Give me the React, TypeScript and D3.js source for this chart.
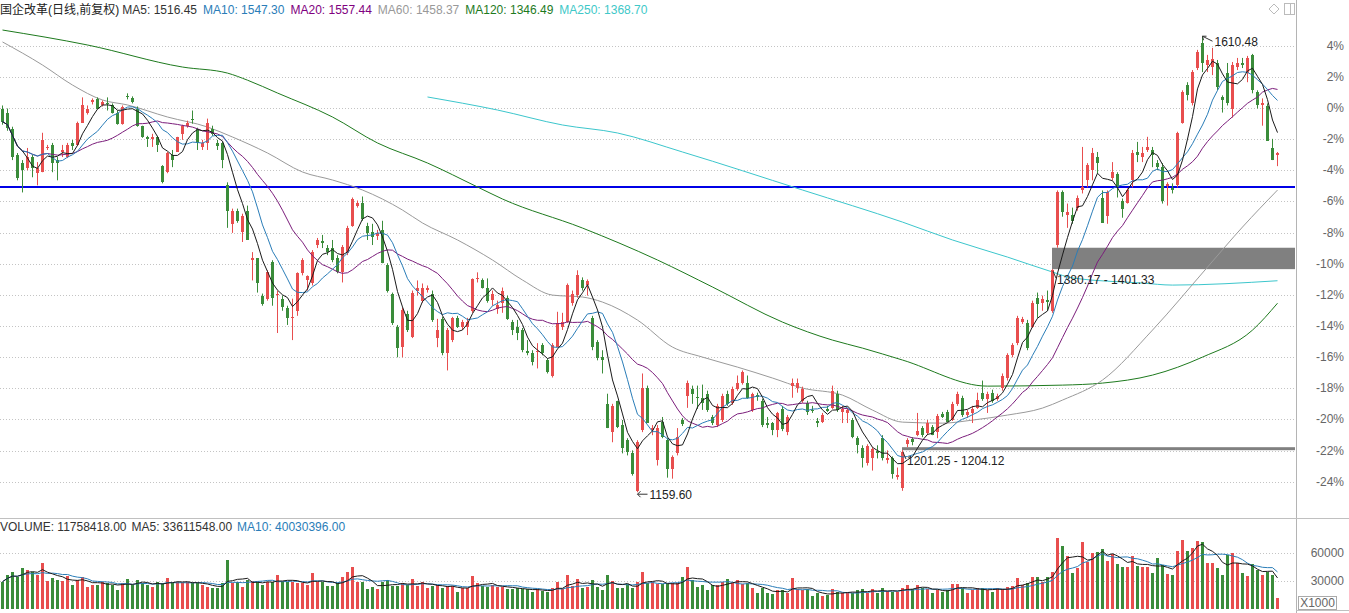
import React from "react";
import * as d3 from "d3";

const WIDTH = 1349;
const HEIGHT = 613;
const FONT = "'Liberation Sans', Arial, 'Noto Sans CJK SC', sans-serif";

// ---- data ----
const title = "国企改革(日线,前复权)";
const basePrice = 1539.5; // price that sits at 0% on the right axis
const pctTicks = [4, 2, 0, -2, -4, -6, -8, -10, -12, -14, -16, -18, -20, -22, -24];
const volTicks = [60000, 30000];

// [open, high, low, close]
const ohlc: [number, number, number, number][] = [
  [1539, 1542, 1523, 1526], [1535, 1539, 1517, 1520], [1519, 1521, 1488, 1491], [1493, 1495, 1468, 1470],
  [1485, 1488, 1456, 1478], [1480, 1500, 1478, 1491], [1491, 1493, 1471, 1480], [1475, 1486, 1463, 1480],
  [1476, 1515, 1476, 1508], [1500, 1503, 1498, 1501], [1503, 1505, 1476, 1485], [1488, 1491, 1468, 1485],
  [1496, 1503, 1491, 1498], [1491, 1505, 1490, 1503], [1505, 1508, 1498, 1502], [1503, 1526, 1502, 1525],
  [1525, 1550, 1525, 1542], [1535, 1542, 1533, 1539], [1545, 1549, 1543, 1547], [1548, 1550, 1539, 1539],
  [1542, 1547, 1541, 1545], [1544, 1550, 1537, 1543], [1542, 1544, 1534, 1535], [1535, 1537, 1523, 1524],
  [1524, 1542, 1523, 1540], [1551, 1554, 1548, 1550], [1549, 1551, 1544, 1545], [1539, 1541, 1521, 1522],
  [1522, 1522, 1510, 1511], [1511, 1512, 1501, 1509], [1509, 1514, 1501, 1511], [1511, 1512, 1496, 1503],
  [1482, 1483, 1465, 1466], [1476, 1496, 1475, 1495], [1493, 1498, 1481, 1488], [1496, 1511, 1496, 1511],
  [1514, 1523, 1508, 1522], [1522, 1527, 1520, 1525], [1529, 1537, 1524, 1528], [1519, 1520, 1498, 1505],
  [1501, 1508, 1498, 1505], [1505, 1529, 1498, 1525], [1519, 1522, 1512, 1514], [1505, 1508, 1498, 1502],
  [1505, 1506, 1480, 1488], [1463, 1466, 1421, 1438], [1425, 1440, 1416, 1438], [1438, 1440, 1426, 1428],
  [1417, 1435, 1407, 1433], [1438, 1443, 1409, 1409], [1389, 1397, 1369, 1391], [1391, 1391, 1357, 1366],
  [1354, 1356, 1344, 1346], [1351, 1379, 1349, 1377], [1387, 1389, 1344, 1352], [1355, 1359, 1317, 1356],
  [1351, 1354, 1339, 1343], [1342, 1344, 1325, 1332], [1332, 1351, 1310, 1333], [1339, 1377, 1334, 1376],
  [1376, 1391, 1374, 1389], [1369, 1374, 1359, 1373], [1366, 1399, 1364, 1397], [1404, 1411, 1401, 1409],
  [1408, 1414, 1401, 1406], [1401, 1404, 1394, 1397], [1401, 1409, 1387, 1389], [1391, 1394, 1376, 1377],
  [1377, 1404, 1367, 1402], [1396, 1423, 1394, 1421], [1423, 1451, 1422, 1450], [1443, 1448, 1441, 1446],
  [1446, 1452, 1428, 1430], [1423, 1426, 1409, 1416], [1417, 1425, 1404, 1412], [1413, 1419, 1409, 1416],
  [1419, 1428, 1386, 1386], [1384, 1386, 1357, 1359], [1356, 1357, 1325, 1327], [1323, 1325, 1293, 1302],
  [1303, 1342, 1293, 1340], [1336, 1339, 1318, 1320], [1313, 1359, 1312, 1357], [1359, 1369, 1354, 1362],
  [1349, 1366, 1347, 1362], [1360, 1364, 1357, 1362], [1356, 1359, 1328, 1330], [1312, 1331, 1303, 1320],
  [1331, 1333, 1295, 1297], [1297, 1322, 1280, 1320], [1310, 1333, 1308, 1332], [1332, 1334, 1322, 1323],
  [1323, 1330, 1320, 1328], [1323, 1332, 1315, 1328], [1339, 1371, 1337, 1370], [1370, 1377, 1367, 1371],
  [1369, 1371, 1361, 1362], [1362, 1371, 1347, 1349], [1350, 1359, 1344, 1356], [1341, 1349, 1336, 1345],
  [1347, 1362, 1337, 1359], [1352, 1354, 1330, 1331], [1328, 1330, 1315, 1320], [1323, 1330, 1310, 1317],
  [1320, 1322, 1298, 1300], [1299, 1310, 1295, 1297], [1297, 1300, 1285, 1288], [1298, 1307, 1282, 1299],
  [1305, 1307, 1295, 1297], [1290, 1292, 1277, 1278], [1275, 1307, 1273, 1305], [1303, 1338, 1303, 1327],
  [1323, 1337, 1320, 1328], [1328, 1366, 1327, 1364], [1347, 1359, 1344, 1356], [1355, 1379, 1352, 1374],
  [1369, 1372, 1359, 1362], [1364, 1370, 1354, 1368], [1332, 1334, 1300, 1303], [1308, 1310, 1290, 1292],
  [1293, 1300, 1277, 1290], [1247, 1257, 1223, 1223], [1219, 1247, 1209, 1245], [1250, 1250, 1223, 1224],
  [1226, 1231, 1198, 1203], [1211, 1213, 1196, 1199], [1198, 1201, 1176, 1178], [1161, 1211, 1159.6, 1209],
  [1221, 1277, 1219, 1263], [1263, 1265, 1228, 1228], [1221, 1226, 1216, 1223], [1191, 1226, 1186, 1223],
  [1229, 1234, 1213, 1214], [1211, 1213, 1174, 1183], [1183, 1196, 1173, 1194], [1198, 1223, 1196, 1214],
  [1231, 1233, 1225, 1227], [1255, 1270, 1243, 1268], [1262, 1265, 1247, 1257], [1254, 1265, 1242, 1253],
  [1253, 1266, 1241, 1248], [1257, 1260, 1239, 1241], [1234, 1236, 1226, 1228], [1226, 1247, 1224, 1245],
  [1231, 1257, 1229, 1255], [1257, 1260, 1245, 1247], [1248, 1264, 1246, 1262], [1262, 1275, 1260, 1268],
  [1268, 1280, 1266, 1278], [1268, 1275, 1252, 1253], [1241, 1258, 1239, 1257], [1256, 1258, 1250, 1254],
  [1250, 1252, 1224, 1226], [1228, 1234, 1223, 1226], [1228, 1229, 1216, 1221], [1221, 1239, 1214, 1238],
  [1242, 1245, 1220, 1222], [1219, 1236, 1216, 1234], [1265, 1272, 1253, 1268], [1263, 1272, 1258, 1268],
  [1250, 1264, 1248, 1262], [1248, 1250, 1236, 1239], [1241, 1245, 1238, 1240], [1230, 1233, 1224, 1228],
  [1229, 1238, 1228, 1236], [1242, 1245, 1239, 1240], [1243, 1265, 1242, 1260], [1257, 1260, 1239, 1241],
  [1239, 1245, 1228, 1242], [1238, 1243, 1228, 1241], [1231, 1233, 1213, 1214], [1213, 1215, 1198, 1206],
  [1203, 1206, 1184, 1193], [1188, 1207, 1186, 1205], [1193, 1204, 1181, 1202], [1200, 1206, 1193, 1198],
  [1213, 1216, 1191, 1193], [1191, 1201, 1188, 1193], [1193, 1195, 1173, 1178], [1175, 1184, 1172, 1177],
  [1164, 1201.25, 1161, 1199], [1207, 1213, 1204.12, 1211], [1212, 1214, 1206, 1209], [1216, 1238, 1215, 1220],
  [1223, 1225, 1214, 1216], [1218, 1231, 1216, 1228], [1224, 1226, 1216, 1216], [1219, 1237, 1213, 1235],
  [1237, 1239, 1233, 1234], [1239, 1241, 1229, 1229], [1231, 1249, 1230, 1247], [1247, 1259, 1245, 1257],
  [1253, 1255, 1234, 1236], [1236, 1241, 1233, 1239], [1238, 1245, 1228, 1242], [1243, 1258, 1242, 1251],
  [1258, 1270, 1250, 1252], [1252, 1259, 1238, 1257], [1258, 1261, 1248, 1250], [1252, 1257, 1250, 1255],
  [1263, 1277, 1260, 1275], [1273, 1297, 1270, 1295], [1295, 1307, 1293, 1305], [1307, 1334, 1305, 1332],
  [1328, 1333, 1326, 1331], [1327, 1330, 1300, 1302], [1323, 1349, 1322, 1347], [1352, 1357, 1332, 1346],
  [1347, 1354, 1339, 1351], [1350, 1359, 1339, 1348], [1339, 1380.17, 1337, 1379], [1404, 1458, 1401.33, 1456],
  [1456, 1458, 1432, 1437], [1434, 1445, 1421, 1437], [1434, 1441, 1425, 1428], [1441, 1453, 1438, 1451],
  [1458, 1501, 1455, 1461], [1468, 1485, 1461, 1483], [1478, 1500, 1468, 1495], [1491, 1496, 1475, 1485],
  [1451, 1458, 1426, 1426], [1433, 1458, 1425, 1456], [1470, 1486, 1468, 1476], [1474, 1476, 1451, 1461],
  [1448, 1450, 1431, 1440], [1446, 1460, 1445, 1458], [1468, 1498, 1461, 1495], [1496, 1506, 1486, 1493],
  [1491, 1501, 1486, 1495], [1498, 1511, 1496, 1501], [1498, 1501, 1481, 1493], [1485, 1488, 1478, 1481],
  [1481, 1485, 1445, 1448], [1462, 1466, 1443, 1464], [1460, 1465, 1455, 1458], [1463, 1516, 1461, 1515],
  [1525, 1557, 1524, 1555], [1562, 1565, 1547, 1552], [1544, 1577, 1542, 1575], [1579, 1597, 1577, 1595],
  [1604, 1610.48, 1575, 1584], [1582, 1592, 1575, 1587], [1580, 1599, 1572, 1588], [1584, 1587, 1557, 1560],
  [1550, 1552, 1535, 1547], [1574, 1584, 1542, 1544], [1539, 1585, 1530, 1582], [1580, 1589, 1577, 1584],
  [1584, 1589, 1579, 1582], [1574, 1591, 1565, 1589], [1592, 1593, 1554, 1557], [1555, 1557, 1539, 1542],
  [1542, 1549, 1522, 1544], [1541, 1544, 1507, 1507], [1500, 1509, 1488, 1488], [1493, 1496, 1482, 1495],
];

// volume, in units of 1000 shares (axis shows X1000)
const volumes = [
  29300, 36400, 40000, 34600, 43600, 41800, 40000, 36400, 48900, 30000,
  32800, 31100, 30000, 35300, 25700, 31100, 34600, 23900, 25700, 25700,
  29300, 27500, 25700, 20300, 28200, 31800, 25700, 31100, 27500, 25700,
  23900, 29300, 27500, 32800, 27500, 29300, 27500, 29300, 27500, 27500,
  25700, 23900, 22100, 22100, 27500, 52500, 27500, 29300, 23900, 31100,
  30000, 29300, 25700, 29300, 29300, 36400, 29300, 29300, 29300, 27500,
  27500, 25700, 38200, 29300, 29300, 24600, 24600, 27500, 34600, 40000,
  45300, 29300, 29300, 21400, 23900, 21400, 29300, 31100, 24600, 24600,
  27500, 25700, 32100, 24600, 29300, 22100, 24600, 25700, 22800, 24600,
  24600, 18600, 22100, 22100, 35300, 27500, 24600, 23900, 25700, 23900,
  23900, 21100, 21100, 22100, 21100, 21100, 18600, 21100, 19600, 18600,
  22100, 29300, 21100, 36400, 24600, 31800, 22800, 23900, 31100, 23900,
  20300, 36400, 30000, 22100, 22100, 26400, 22100, 29300, 39300, 28200,
  28600, 26400, 26400, 26400, 27500, 27500, 34600, 45300, 31100, 23900,
  25700, 20300, 25700, 25700, 29300, 32100, 27500, 31100, 26400, 28200,
  22800, 17500, 22100, 17500, 15700, 20300, 20300, 17500, 33600, 21100,
  20300, 21100, 13900, 16800, 13900, 15000, 21100, 18600, 16800, 16800,
  17500, 20300, 21400, 16800, 21100, 16800, 22100, 19600, 18600, 18600,
  22100, 25700, 21100, 25700, 22100, 21100, 16800, 20300, 18600, 20300,
  26800, 26800, 22100, 17500, 20300, 22100, 22800, 20300, 18600, 22100,
  21100, 23900, 24600, 32800, 25700, 28200, 33900, 34600, 29300, 34600,
  40000, 75700, 67500, 56800, 38200, 44300, 72100, 50700, 60300, 61400,
  63900, 51800, 58900, 48200, 45300, 45300, 56800, 46100, 45300, 45300,
  38900, 54300, 47100, 37500, 36400, 62500, 73900, 62100, 65700, 73200,
  72100, 48900, 48900, 43600, 36400, 57800, 59600, 48900, 38900, 35300,
  48200, 41800, 36400, 40000, 36400, 11758,
];

// long averages need history before the window: as [bar index, price]
const ma60Points: [number, number][] = [
  [0, 1604.8], [8, 1582], [14, 1562.2], [20, 1547.4], [25, 1542.5], [33, 1530.6], [41, 1520.7],
  [46, 1510.8], [53, 1495], [60, 1476.2], [66, 1468.3], [72, 1458.4], [80, 1438.6], [84, 1425.8],
  [91, 1409], [98, 1389.2], [104, 1369.4], [110, 1354.5], [116, 1352.6], [120, 1347.6], [127, 1329.8],
  [134, 1303.1], [140, 1293.2], [147, 1283.3], [154, 1272.5], [160, 1262.6], [168, 1255.6],
  [174, 1240.8], [180, 1228.9], [188, 1227.9], [194, 1230.9], [201, 1235.9], [208, 1242.8],
  [212, 1250.7], [220, 1270.5], [230, 1319.9], [241, 1382.2], [248, 1421.8], [255, 1458.37],
];
const ma120Points: [number, number][] = [
  [0, 1616.6], [17, 1601.8], [36, 1580], [45, 1574], [49, 1567], [55, 1554.3], [66, 1530.6],
  [75, 1504.9], [85, 1485.1], [95, 1461.4], [100, 1449.5], [116, 1420.8], [131, 1389.2],
  [142, 1362.5], [156, 1327.8], [166, 1310], [172, 1302.1], [180, 1290.3], [197, 1264.5],
  [212, 1265.5], [220, 1267.5], [230, 1275.4], [240, 1293.2], [250, 1319.9], [255, 1346.49],
];
const ma250Points: [number, number][] = [
  [85, 1550.4], [99, 1537.5], [112, 1522.7], [123, 1514.8], [136, 1496], [160, 1458.4],
  [180, 1426.7], [190, 1409], [201, 1392.1], [210, 1377.3], [214, 1371.4], [228, 1366.4],
  [234, 1364.4], [255, 1368.7],
];

const supportPrice = 1461.4;
const gapStarts = [180, 210];
const gapLows = [1201.25, 1380.17];
const gapHighs = [1204.12, 1401.33];

const maNames = ["MA5", "MA10", "MA20", "MA60", "MA120", "MA250"];
const maLast = ["1516.45", "1547.30", "1557.44", "1458.37", "1346.49", "1368.70"];
const volNames = ["VOLUME", "MA5", "MA10"];
const volLast = ["11758418.00", "33611548.00", "40030396.00"];

// ---- styles ----
const UP = "#E84E4E";
const DOWN = "#3A8C3A";
const maColors: Record<string, string> = {
  MA5: "#1a1a1a",
  MA10: "#2a7db8",
  MA20: "#7b1d7b",
  MA60: "#9a9a9a",
  MA120: "#1e7a1e",
  MA250: "#3cc6cc",
};
const legendColors: Record<string, string> = {
  MA5: "#333",
  MA10: "#2a7db8",
  MA20: "#800080",
  MA60: "#999",
  MA120: "#1e7a1e",
  MA250: "#40c8c8",
};

const movingAvg = (vals: number[], n: number) =>
  vals.map((_, i) => d3.mean(vals.slice(Math.max(0, i - n + 1), i + 1)) as number);

export default function App() {
  const plotRight = 1295;
  const plotTop = 18;
  const plotBottom = 517;

  const x = d3
    .scaleBand<number>()
    .domain(d3.range(ohlc.length))
    .range([-0.5, 1279.5]);
  const cx = (i: number) => (x(i) ?? 0) + x.bandwidth() / 2;

  // 0% at y=108, 15.57px per percent
  const y = d3
    .scaleLinear()
    .domain([basePrice, basePrice * 0.76])
    .range([108, 108 + 24 * 15.57]);
  const yPct = (p: number) => y(basePrice * (1 + p / 100));

  const yVol = d3.scaleLinear().domain([0, 60000]).range([609, 553]);

  const closes = ohlc.map((d) => d[3]);
  const shortMAs = [
    { name: "MA5", vals: movingAvg(closes, 5) },
    { name: "MA10", vals: movingAvg(closes, 10) },
    { name: "MA20", vals: movingAvg(closes, 20) },
  ];
  const seriesLine = d3
    .line<number>()
    .x((_, i) => cx(i) + 0.5)
    .y((v) => y(v));
  const pointsLine = d3
    .line<[number, number]>()
    .x((d) => cx(d[0]) + 0.5)
    .y((d) => y(d[1]))
    .curve(d3.curveMonotoneX);

  const volMA5 = movingAvg(volumes, 5);
  const volMA10 = movingAvg(volumes, 10);
  const volLine = d3
    .line<number>()
    .x((_, i) => cx(i) + 0.5)
    .y((v) => yVol(v));

  const hiIdx = 240;
  const loIdx = 127;
  const hx = cx(hiIdx) + 0.5;
  const hy = y(ohlc[hiIdx][1]);
  const lx = cx(loIdx) + 0.5;
  const ly = y(ohlc[loIdx][2]);

  return (
    <div style={{ position: "fixed", left: 0, top: 0, width: WIDTH, height: HEIGHT, background: "#fff" }}>
      <svg width={WIDTH} height={HEIGHT} style={{ display: "block", fontFamily: FONT }}>
        <defs>
          <clipPath id="mainClip">
            <rect x={0} y={plotTop} width={plotRight} height={plotBottom - plotTop} />
          </clipPath>
        </defs>
        <rect width={WIDTH} height={HEIGHT} fill="#fff" />

        {/* grid */}
        {pctTicks.map((p) => (
          <line key={p} x1={0} x2={plotRight} y1={Math.round(yPct(p)) + 0.5} y2={Math.round(yPct(p)) + 0.5}
            stroke="#c4c4c4" strokeDasharray="1,2" />
        ))}
        {volTicks.map((v) => (
          <line key={v} x1={0} x2={plotRight} y1={Math.round(yVol(v)) + 0.5} y2={Math.round(yVol(v)) + 0.5}
            stroke="#c4c4c4" strokeDasharray="1,2" />
        ))}

        {/* panel frames */}
        <line x1={plotRight + 1.5} x2={plotRight + 1.5} y1={0} y2={HEIGHT} stroke="#b4b4b4" />
        <line x1={0} x2={WIDTH} y1={518.5} y2={518.5} stroke="#c0c0c0" />
        <line x1={plotRight + 1} x2={WIDTH} y1={610.5} y2={610.5} stroke="#c0c0c0" />

        {/* right axis */}
        {pctTicks.map((p) => (
          <text key={p} x={1344} y={yPct(p) + 4} textAnchor="end" fontSize={12} fill="#666">
            {`${p}%`}
          </text>
        ))}
        {volTicks.map((v) => (
          <text key={v} x={1344} y={yVol(v) + 4} textAnchor="end" fontSize={12} fill="#666">
            {v}
          </text>
        ))}
        <rect x={1298.5} y={596.5} width={38} height={13} fill="#fff" stroke="#aaa" />
        <text x={1317.5} y={607} textAnchor="middle" fontSize={12} fill="#666">X1000</text>

        <g clipPath="url(#mainClip)">
          {/* gaps */}
          {gapStarts.map((s, k) => (
            <rect key={s} x={cx(s)} y={y(gapHighs[k])} width={plotRight - cx(s)}
              height={Math.max(3, y(gapLows[k]) - y(gapHighs[k]))} fill="#808080" />
          ))}

          {/* support line */}
          <line x1={0} x2={plotRight} y1={y(supportPrice)} y2={y(supportPrice)} stroke="#0000e6" strokeWidth={2} />

          {/* long MAs */}
          <path d={pointsLine(ma250Points) ?? ""} fill="none" stroke={maColors.MA250} strokeWidth={1} />
          <path d={pointsLine(ma120Points) ?? ""} fill="none" stroke={maColors.MA120} strokeWidth={1} />
          <path d={pointsLine(ma60Points) ?? ""} fill="none" stroke={maColors.MA60} strokeWidth={1} />

          {/* candles */}
          {ohlc.map(([o, h, l, c], i) => {
            const col = c >= o ? UP : DOWN;
            const top = y(Math.max(o, c));
            const bh = Math.max(1, Math.abs(y(o) - y(c)));
            return (
              <g key={i}>
                <line x1={cx(i) + 0.5} x2={cx(i) + 0.5} y1={y(h)} y2={y(l)} stroke={col} />
                <rect x={cx(i) - 1} y={top} width={3} height={bh} fill={col} shapeRendering="crispEdges" />
              </g>
            );
          })}

          {/* short MAs */}
          {shortMAs
            .slice()
            .reverse()
            .map((m) => (
              <path key={m.name} d={seriesLine(m.vals) ?? ""} fill="none" stroke={maColors[m.name]} strokeWidth={1} />
            ))}

          {/* annotations */}
          <path d={`M${hx},${hy} L${hx + 10},${hy + 5} M${hx},${hy} L${hx + 1},${hy + 4} M${hx},${hy} L${hx + 4},${hy}`}
            stroke="#333" fill="none" />
          <text x={hx + 12} y={hy + 10} fontSize={12} fill="#222">{ohlc[hiIdx][1].toFixed(2)}</text>

          <path d={`M${lx},${ly + 2} L${lx + 10},${ly + 2} M${lx},${ly + 2} L${lx + 3},${ly - 1} M${lx},${ly + 2} L${lx + 3},${ly + 5}`}
            stroke="#333" fill="none" />
          <text x={lx + 12} y={ly + 7} fontSize={12} fill="#222">{ohlc[loIdx][2].toFixed(2)}</text>

          {gapStarts.map((s, k) => (
            <g key={s}>
              <path d={`M${cx(s) + 1},${y(gapLows[k]) + 2} L${cx(s) + 4},${y(gapLows[k]) + 9}`} stroke="#333" fill="none" />
              <text x={cx(s) + 5} y={y(gapLows[k]) + 15} fontSize={12} fill="#222">
                {`${gapLows[k].toFixed(2)} - ${gapHighs[k].toFixed(2)}`}
              </text>
            </g>
          ))}
        </g>

        {/* volume */}
        {volumes.map((v, i) => {
          const [o, , , c] = ohlc[i];
          return (
            <rect key={i} x={cx(i) - 1} y={yVol(v)} width={3} height={yVol(0) - yVol(v)}
              fill={c >= o ? UP : DOWN} shapeRendering="crispEdges" />
          );
        })}
        <path d={volLine(volMA10) ?? ""} fill="none" stroke={maColors.MA10} strokeWidth={1} />
        <path d={volLine(volMA5) ?? ""} fill="none" stroke={maColors.MA5} strokeWidth={1} />

        {/* legends */}
        <text x={0} y={13.5} fontSize={12}>
          <tspan fill="#222">{title}</tspan>
          {maNames.map((n, k) => (
            <tspan key={n} dx={k === 0 ? 3 : 6} fill={legendColors[n]}>{`${n}: ${maLast[k]}`}</tspan>
          ))}
        </text>
        <text x={0} y={530.5} fontSize={12}>
          {volNames.map((n, k) => (
            <tspan key={n} dx={k === 0 ? 0 : 5} fill={n === "MA10" ? legendColors.MA10 : "#333"}>
              {`${n}: ${volLast[k]}`}
            </tspan>
          ))}
        </text>

        {/* top-right icons */}
        <path d="M1274,4 L1279,9 L1274,14 L1269,9 Z" fill="none" stroke="#bbb" />
        <rect x={1284.5} y={3.5} width={10} height={11} fill="none" stroke="#bbb" />
        <line x1={1290.5} x2={1290.5} y1={3.5} y2={14.5} stroke="#bbb" />
      </svg>
    </div>
  );
}
